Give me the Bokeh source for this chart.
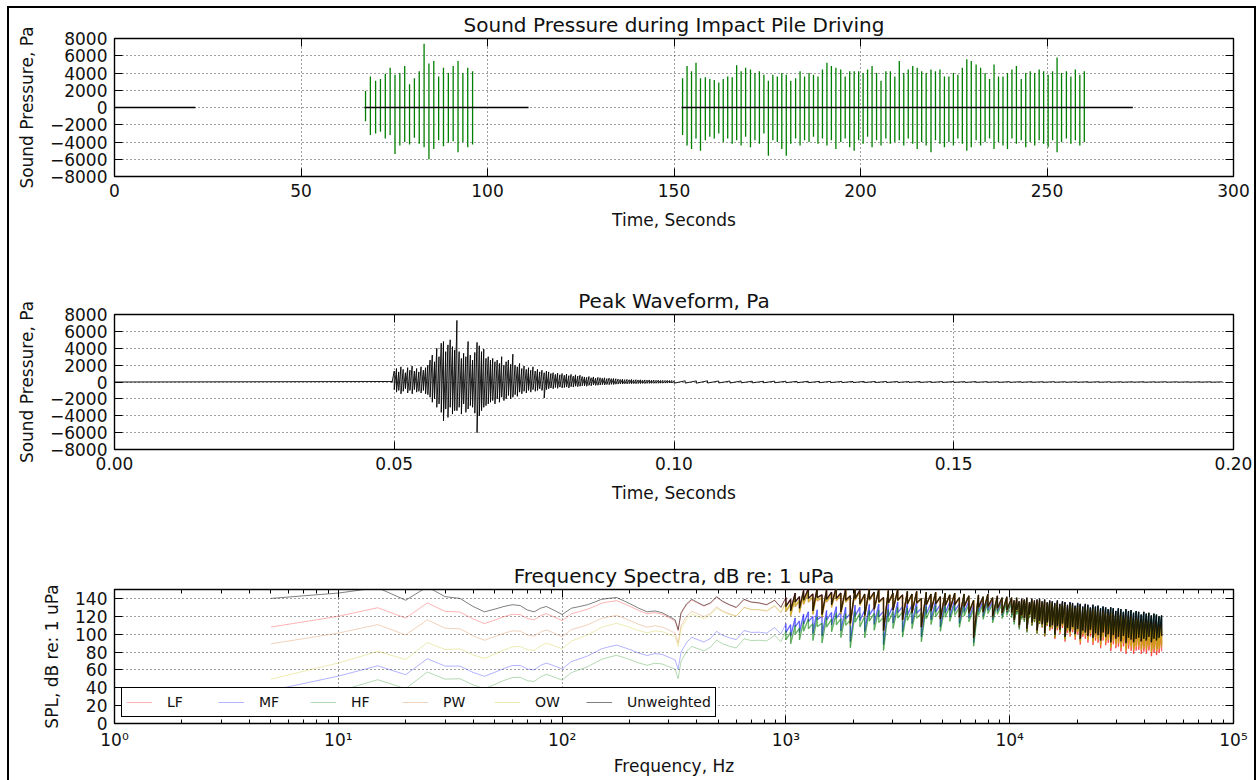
from bokeh.plotting import figure
from bokeh.models import (Range1d, FixedTicker, LinearAxis, LogAxis,
                          NumeralTickFormatter, CustomJSTickFormatter,
                          Legend, LegendItem)
from bokeh.layouts import column
from bokeh.embed import file_html
from bokeh.resources import INLINE

FONT = "DejaVu Sans"
MINUS = "\u2212"

# ---------------- strike record (top panel) ----------------
strike_time_s = [
    67.3, 68.6, 70.0, 71.3, 72.6, 73.9, 75.2, 76.5, 77.8, 79.1, 80.4, 81.7,
    83.0, 84.3, 85.6, 86.9, 88.2, 89.5, 90.8, 92.1, 93.4, 94.7, 96.0,
    152.3, 153.5, 154.7, 155.9, 157.1, 158.4, 159.6, 160.8, 162.0, 163.2,
    164.4, 165.6, 166.8, 168.0, 169.2, 170.5, 171.7, 172.9, 174.1, 175.3,
    176.5, 177.7, 178.9, 180.1, 181.3, 182.6, 183.8, 185.0, 186.2, 187.4,
    188.6, 189.8, 191.0, 192.2, 193.4, 194.7, 195.9, 197.1, 198.3, 199.5,
    200.7, 201.9, 203.1, 204.3, 205.5, 206.8, 208.0, 209.2, 210.4, 211.6,
    212.8, 214.0, 215.2, 216.4, 217.6, 218.9, 220.1, 221.3, 222.5, 223.7,
    224.9, 226.1, 227.3, 228.5, 229.7, 231.0, 232.2, 233.4, 234.6, 235.8,
    237.0, 238.2, 239.4, 240.6, 241.8, 243.1, 244.3, 245.5, 246.7, 247.9,
    249.1, 250.3, 251.5, 252.7, 253.9, 255.2, 256.4, 257.6, 258.8, 260.0,
]
strike_peak_pos_pa = [
    1900, 3600, 3100, 3300, 3900, 4600, 3800, 4000, 4800, 2700, 3400, 4200,
    7400, 5100, 5400, 3600, 4600, 4000, 4800, 5400, 4000, 4600, 4200,
    3400, 4800, 4200, 5200, 3400, 3500, 3300, 3200, 2900, 3300,
    3600, 3500, 4900, 4200, 4600, 4400, 4000, 4200, 3800, 3100,
    3800, 3600, 4000, 3800, 3100, 3400, 4200, 3600, 4000, 3800,
    3600, 4400, 5200, 4800, 4600, 4400, 3600, 4200, 4200, 4200,
    4000, 4400, 4800, 4000, 3100, 4200, 4200, 3600, 5400, 4000,
    4400, 4800, 4600, 4200, 4000, 4400, 4200, 4400, 3600, 3600,
    4000, 3800, 4600, 5600, 5400, 5000, 4600, 4000, 3300, 5000,
    3600, 3600, 4000, 4400, 4800, 3300, 4000, 4200, 4000, 4400,
    4200, 3800, 4200, 5800, 4000, 4200, 3600, 4400, 3800, 4200,
]
strike_peak_neg_pa = [
    -1600, -3200, -3000, -2800, -3600, -3200, -5400, -4400, -4000, -4300,
    -3500, -4200, -4600, -6000, -4800, -3800, -4500, -4100, -3900, -5200,
    -4000, -4600, -4300,
    -3200, -4400, -4800, -3600, -5000, -3800, -3400, -3600, -3000, -4000,
    -3600, -4200, -3800, -4400, -3400, -4600, -3800, -4200, -3000, -5600,
    -3800, -4000, -4800, -5600, -4200, -3600, -4400, -3800, -4000, -3400,
    -4200, -3600, -4400, -3800, -4800, -4000, -3600, -4600, -5000, -3800,
    -4200, -3400, -4600, -3800, -4400, -3600, -4200, -4000, -3800, -4400,
    -3600, -4200, -4800, -4000, -4400, -5200, -3800, -4200, -4600, -4000,
    -4400, -3600, -4200, -5000, -4600, -3800, -4400, -4000, -3600, -4800,
    -4000, -4400, -4800, -3600, -4200, -3800, -4600, -4000, -4400, -3800,
    -4200, -4600, -3800, -5200, -4000, -3600, -4200, -3800, -4400, -4000,
]
record_start_s = [0.0, 67.0, 152.0]
record_end_s = [21.7, 111.0, 273.0]
record_level_pa = [0, 0, 0]

# ---------------- single strike waveform (middle panel) ----------------
# per-bin maxima / minima of the strike waveform
wave_bin_start_s = 0.0496
wave_bin_s = 0.0004
wave_max_pa = [
    60,
    1300, 1600, 1200, 1800, 1500, 1100, 1700, 1400, 1900, 1300, 1600, 1200, 1800, 1400, 1700, 2000,
    2600, 3200, 2400, 4000, 3000, 4600,
    4800, 3600, 4400, 5000, 4200, 3800,
    7300,
    3600, 2800, 3400, 3000, 4800, 3200, 2600, 3500,
    4700, 4300, 3600, 3900, 2800, 3000, 2600,
    2800, 2400, 2600, 2200, 3000, 2000, 2400, 2600, 2100,
    3300,
    2000, 1800, 2200, 1600, 1900, 1500, 1700, 1400, 1800, 1300, 1500, 1200, 1400, 1100, 1300, 1200,
    1000, 1100, 900, 1050, 850, 1000, 800, 950, 750, 900, 700, 850, 700, 800, 650,
    600, 550, 650, 500, 600, 450, 550, 500, 450, 500, 400, 450, 400, 420, 380,
    350, 300, 330, 280, 300, 260, 300, 250, 270, 240, 260, 230, 250, 220, 240,
    210, 230, 200, 210, 190, 200, 180, 190, 170, 180,
]
wave_min_pa = [
    -60,
    -900, -1200, -1000, -1400, -1100, -800, -1300, -1000, -1400, -900, -1200, -1100, -1300, -1000, -1400, -1500,
    -1800, -2400, -2000, -3000, -2600, -3600,
    -4600, -3200, -4200, -3000, -3800, -3400,
    -3400,
    -3000, -3800, -2600, -3600, -3200, -2800, -3000, -3700,
    -6000, -4000, -3400, -3000, -2800, -2600, -2400,
    -2200, -2600, -2000, -2400, -1800, -2200, -2000, -1600, -2000,
    -1800,
    -1500, -1700, -1200, -1400, -1100, -1300, -1000, -1200, -900, -1100, -1000, -800, -1000, -1900, -900, -800,
    -700, -800, -650, -750, -600, -700, -650, -600, -700, -550, -600, -500, -550, -500, -450,
    -450, -500, -400, -450, -350, -400, -380, -350, -320, -350, -300, -320, -280, -300, -260,
    -250, -230, -240, -210, -220, -200, -210, -190, -200, -180, -190, -170, -180, -160, -170,
    -150, -160, -150, -150, -140, -140, -130, -130, -120, -120,
]
tail_bin_start_s = 0.1
tail_bin_s = 0.002
tail_max_pa = [
    150, 140, 130, 140, 120, 110, 120, 100, 90, 100,
    90, 80, 85, 75, 80, 70, 65, 70, 60, 65,
    60, 55, 60, 50, 55, 50, 45, 50, 45, 40,
    45, 40, 40, 35, 40, 35, 35, 30, 35, 30,
    30, 30, 30, 25, 30, 25, 25, 25, 25, 20,
]
tail_min_pa = [
    -140, -130, -140, -120, -110, -120, -100, -100, -90, -90,
    -80, -85, -75, -80, -70, -70, -65, -60, -65, -60,
    -55, -55, -50, -55, -50, -45, -50, -45, -40, -45,
    -40, -40, -35, -40, -35, -35, -30, -35, -30, -30,
    -30, -25, -30, -25, -25, -25, -25, -20, -25, -20,
]

# ---------------- spectra (bottom panel) ----------------
freq_hz = [
    5, 10, 15, 20, 25, 30, 35, 40, 45, 50, 55, 60, 65, 70, 75, 80, 85, 90, 95, 100,
    110, 120, 130, 140, 150, 160, 175, 190, 205, 220, 240, 260, 280, 300, 320, 330,
    340, 360, 380, 400, 430, 460, 490, 520, 560, 600, 650, 700, 760, 820, 890, 950,
    1000, 1050, 1100, 1150, 1200, 1260, 1320, 1380, 1450, 1520, 1600, 1680, 1760,
    1850, 1940, 2040, 2140, 2250, 2360, 2480, 2600, 2730, 2870, 3010, 3160, 3320,
    3490, 3660, 3840, 4030, 4240, 4450, 4670, 4900, 5150, 5400, 5680, 5960, 6260,
    6570, 6900, 7250, 7610, 7990, 8390, 8810, 9250, 9710,
    10200, 10470, 10750, 11030, 11320, 11620, 11930, 12250, 12570, 12900, 13250,
    13600, 13960, 14330, 14710, 15100, 15500, 15910, 16330, 16760, 17210, 17660,
    18130, 18610, 19100, 19610, 20130, 20660, 21210, 21770, 22350, 22940, 23550,
    24170, 24810, 25470, 26140, 26840, 27550, 28280, 29030, 29800, 30590, 31400,
    32230, 33080, 33960, 34860, 35780, 36730, 37700, 38700, 39730, 40780, 41860,
    42970, 44110, 45280, 46480, 47710,
]
# per-bin peak and trough of the unweighted spectrum (equal where the bins are sparse)
unweighted_max_db = [
    140, 146, 152, 138, 153, 142, 140, 131, 125, 128, 131, 133, 132, 127, 125, 129, 131, 128, 125, 122,
    129, 131, 133, 136, 139, 140, 141, 137, 133, 129, 125, 126, 124, 120, 116, 105,
    124, 134, 139, 136, 132, 135, 142, 137, 133, 130, 139, 136, 135, 133, 138, 130,
    141, 139, 146, 142, 149, 151, 145, 152, 144, 150, 147, 153, 146,
    151, 143, 152, 149, 145, 151, 147, 150, 141, 149, 146, 150, 144,
    148, 145, 148, 140, 147, 145, 147, 142, 146, 144, 146, 141, 145,
    143, 138, 144, 142, 145, 141, 143, 141, 142,
    141, 138, 141, 137, 140, 139, 141, 136, 140, 138, 139,
    140, 137, 139, 136, 138, 137, 135, 138, 134, 137, 136,
    133, 136, 135, 132, 135, 134, 131, 134, 133, 130, 133,
    131, 132, 129, 131, 130, 128, 130, 129, 126, 129, 128,
    125, 128, 126, 127, 124, 126, 125, 122, 125, 123, 124,
    121, 123, 122, 120, 121,
]
unweighted_min_db = [
    140, 146, 152, 138, 153, 142, 140, 131, 125, 128, 131, 133, 132, 127, 125, 129, 131, 128, 125, 122,
    129, 131, 133, 136, 139, 140, 141, 137, 133, 129, 125, 126, 124, 120, 116, 105,
    124, 134, 139, 136, 132, 135, 142, 137, 133, 130, 139, 136, 135, 133, 138, 130,
    131, 126, 136, 129, 138, 140, 126, 141, 122, 139, 133, 140, 125,
    138, 112, 140, 134, 121, 139, 128, 136, 104, 135, 127, 138, 116,
    134, 124, 135, 108, 133, 126, 134, 117, 132, 127, 133, 119, 131,
    124, 96, 130, 125, 131, 120, 129, 124, 127,
    124, 116, 127, 110, 121, 118, 106, 122, 113, 117, 104,
    115, 111, 101, 113, 108, 110, 99, 109, 105, 112, 97,
    107, 103, 108, 100, 106, 95, 104, 102, 98, 105, 96,
    101, 99, 93, 102, 97, 100, 91, 99, 95, 97, 92,
    98, 90, 96, 94, 91, 95, 96, 92, 95, 93, 97,
    91, 95, 93, 96, 98,
]
# weighting gains (dB relative to the unweighted spectrum) per hearing group
lf_gain_db = [
    -32, -26, -22.4, -20, -18.1, -16.5, -15.2, -14, -13.1, -12.2, -11.4, -10.7, -10.1, -9.5, -9, -8.5, -8, -7.6, -7.2, -6.9,
    -6.2, -5.6, -5.1, -4.7, -4.3, -4.0, -3.5, -3.1, -2.8, -2.5, -2.2, -1.9, -1.7, -1.5, -1.3, -1.2,
    -1.2, -1.0, -0.9, -0.8, -0.7, -0.6, -0.5, -0.5, -0.4, -0.3, -0.3, -0.2, -0.2, -0.1, -0.1, 0,
    0, 0, 0, 0, 0, 0, 0, 0, 0, 0, 0, 0, 0,
    0, 0, 0, 0, 0, 0, 0, 0, 0, 0, 0, 0, 0,
    -0.2, -0.2, -0.2, -0.3, -0.3, -0.4, -0.4, -0.5, -0.5, -0.6, -0.6, -0.7, -0.8,
    -0.9, -1.0, -1.1, -1.2, -1.3, -1.5, -1.6, -1.8, -1.9,
    -2.1, -2.2, -2.3, -2.4, -2.5, -2.6, -2.8, -2.9, -3.0, -3.2, -3.3,
    -3.5, -3.6, -3.8, -3.9, -4.1, -4.3, -4.5, -4.7, -4.9, -5.1, -5.3,
    -5.5, -5.7, -5.9, -6.2, -6.4, -6.7, -6.9, -7.2, -7.4, -7.7, -8.0,
    -8.2, -8.5, -8.8, -9.1, -9.4, -9.7, -10.0, -10.3, -10.7, -11.0, -11.3,
    -11.6, -12.0, -12.3, -12.7, -13.0, -13.4, -13.7, -14.1, -14.5, -14.8, -15.2,
    -15.6, -16.0, -16.4, -16.8, -17.1,
]
mf_gain_db = [
    -103, -93, -87.4, -83.4, -80.5, -77.8, -75.7, -73.8, -72.2, -70.7, -69.4, -68.1, -67, -66, -65, -64.1, -63.3, -62.5, -61.7, -61,
    -59.7, -58.5, -57.4, -56.3, -55.4, -54.5, -53.2, -52.1, -51.0, -50.1, -48.9, -47.7, -46.7, -45.8, -44.9, -44.4,
    -44.0, -43.2, -42.5, -41.8, -40.8, -39.8, -38.9, -38.1, -37.1, -36.1, -35.0, -34.0, -32.8, -31.9, -30.7, -29.8,
    -29.1, -28.4, -27.8, -27.2, -26.6, -26.0, -25.3, -24.7, -24.0, -23.4, -22.7, -22.1, -21.4,
    -20.8, -20.1, -19.5, -18.8, -18.2, -17.6, -16.9, -16.3, -15.7, -15.1, -14.5, -13.9, -13.3,
    -12.7, -12.1, -11.5, -11.0, -10.4, -9.9, -9.3, -8.8, -8.3, -7.8, -7.3, -6.8, -6.4,
    -5.9, -5.5, -5.1, -4.7, -4.3, -4.0, -3.7, -3.3, -3.0,
    -2.7, -2.5, -2.4, -2.2, -2.1, -2.0, -1.9, -1.8, -1.7, -1.6, -1.5,
    -1.4, -1.3, -1.2, -1.1, -1.0, -0.9, -0.9, -0.8, -0.7, -0.6, -0.6,
    -0.5, -0.5, -0.4, -0.4, -0.3, -0.3, -0.2, -0.2, -0.2, -0.1, -0.1,
    -0.1, -0.1, 0, 0, 0, 0, 0, 0, 0, 0, 0,
    0, 0, 0, 0, 0, -0.1, -0.1, -0.2, -0.2, -0.3, -0.3,
    -0.3, -0.4, -0.4, -0.5, -0.5,
]
hf_gain_db = [
    -120, -110, -103, -99, -95.4, -92.3, -89.9, -87.8, -86, -84.3, -82.8, -81.5, -80.2, -79.1, -78, -77, -76, -75.1, -74.3, -73.5,
    -72.0, -70.6, -69.4, -68.2, -67.2, -66.1, -64.7, -63.4, -62.3, -61.2, -59.8, -58.5, -57.4, -56.3, -55.3, -54.8,
    -54.4, -53.5, -52.6, -51.8, -50.7, -49.6, -48.6, -47.7, -46.6, -45.5, -44.2, -43.1, -41.8, -40.6, -39.3, -38.4,
    -37.5, -36.8, -36.1, -35.4, -34.7, -34.0, -33.2, -32.6, -31.8, -31.1, -30.3, -29.5, -28.8,
    -28.1, -27.3, -26.6, -25.8, -25.1, -24.4, -23.6, -22.9, -22.2, -21.4, -20.7, -20.0, -19.3,
    -18.6, -17.9, -17.2, -16.5, -15.8, -15.2, -14.5, -13.8, -13.2, -12.6, -11.9, -11.3, -10.7,
    -10.1, -9.5, -8.9, -8.4, -7.9, -7.3, -6.8, -6.4, -5.9,
    -5.5, -5.2, -5.0, -4.8, -4.6, -4.4, -4.2, -4.0, -3.8, -3.6, -3.4,
    -3.3, -3.1, -3.0, -2.8, -2.6, -2.5, -2.4, -2.2, -2.1, -1.9, -1.8,
    -1.7, -1.6, -1.4, -1.3, -1.2, -1.1, -1.0, -1.0, -0.9, -0.8, -0.7,
    -0.6, -0.6, -0.5, -0.4, -0.4, -0.3, -0.3, -0.2, -0.2, -0.2, -0.1,
    -0.1, -0.1, 0, 0, 0, 0, 0, 0, 0, 0, 0,
    0, 0, 0, 0, -0.1,
]
pw_gain_db = [
    -50.8, -44.8, -41.3, -38.8, -36.9, -35.3, -34.0, -32.8, -31.8, -30.8, -30.0, -29.3, -28.6, -27.9, -27.3, -26.8, -26.2, -25.7, -25.3, -24.8,
    -24.0, -23.2, -22.5, -21.9, -21.3, -20.8, -20.0, -19.3, -18.6, -18.0, -17.3, -16.6, -16.0, -15.3, -14.8, -14.6,
    -14.3, -13.8, -13.4, -12.9, -12.3, -11.8, -11.3, -10.8, -10.2, -9.7, -9.0, -8.5, -7.8, -7.3, -6.7, -6.2,
    -5.9, -5.6, -5.3, -5.0, -4.7, -4.4, -4.1, -3.9, -3.6, -3.3, -3.1, -2.8, -2.6,
    -2.4, -2.2, -2.0, -1.8, -1.6, -1.4, -1.3, -1.1, -1.0, -0.9, -0.8, -0.7, -0.6,
    -0.5, -0.4, -0.4, -0.3, -0.2, -0.2, -0.1, -0.1, 0, 0, 0, 0, 0,
    0, 0, -0.1, -0.1, -0.1, -0.2, -0.2, -0.3, -0.4,
    -0.3, -0.4, -0.5, -0.5, -0.6, -0.6, -0.7, -0.7, -0.8, -0.8, -0.9,
    -1.0, -1.0, -1.1, -1.2, -1.3, -1.4, -1.5, -1.6, -1.7, -1.8, -1.9,
    -2.0, -2.1, -2.3, -2.4, -2.5, -2.7, -2.8, -3.0, -3.1, -3.3, -3.5,
    -3.6, -3.8, -4.0, -4.2, -4.4, -4.6, -4.8, -5.0, -5.2, -5.5, -5.7,
    -5.9, -6.2, -6.4, -6.7, -6.9, -7.2, -7.5, -7.8, -8.0, -8.3, -8.6,
    -8.9, -9.2, -9.6, -9.9, -10.2,
]
ow_gain_db = [
    -90.3, -78.3, -71.3, -66.3, -62.4, -59.2, -56.5, -54.2, -52.1, -50.3, -48.7, -47.2, -45.8, -44.5, -43.3, -42.2, -41.2, -40.2, -39.3, -38.4,
    -36.8, -35.2, -33.9, -32.6, -31.3, -30.3, -28.9, -27.4, -26.2, -25.0, -23.6, -22.3, -21.1, -20.0, -19.0, -18.6,
    -18.1, -17.2, -16.4, -15.6, -14.6, -13.6, -12.8, -11.9, -10.9, -10.1, -9.2, -8.3, -7.5, -6.6, -5.8, -5.2,
    -4.9, -4.5, -4.1, -3.8, -3.5, -3.2, -2.9, -2.7, -2.4, -2.2, -1.9, -1.7, -1.5,
    -1.4, -1.2, -1.1, -0.9, -0.8, -0.7, -0.6, -0.5, -0.4, -0.4, -0.3, -0.2, -0.2,
    -0.1, -0.1, -0.1, -0.1, -0.1, 0, 0, 0, 0, 0, 0, -0.1, -0.1,
    -0.1, -0.1, -0.2, -0.3, -0.3, -0.4, -0.5, -0.6, -0.7,
    -0.8, -0.9, -1.0, -1.0, -1.1, -1.2, -1.3, -1.3, -1.4, -1.5, -1.6,
    -1.7, -1.8, -1.9, -2.0, -2.1, -2.2, -2.4, -2.5, -2.6, -2.8, -2.9,
    -3.1, -3.2, -3.4, -3.5, -3.7, -3.9, -4.1, -4.3, -4.5, -4.7, -4.9,
    -5.1, -5.3, -5.5, -5.8, -6.0, -6.3, -6.5, -6.8, -7.0, -7.3, -7.6,
    -7.9, -8.1, -8.4, -8.7, -9.0, -9.4, -9.7, -10.0, -10.3, -10.6, -11.0,
    -11.3, -11.7, -12.0, -12.4, -12.7,
]
series_names = ["LF", "MF", "HF", "PW", "OW", "Unweighted"]
series_colors = ["#ff0000", "#0000ff", "#008000", "#d2691e", "#bfbf00", "#000000"]

for arr in (unweighted_max_db, unweighted_min_db, lf_gain_db, mf_gain_db,
            hf_gain_db, pw_gain_db, ow_gain_db):
    assert len(arr) == len(freq_hz), len(arr)
assert len(strike_time_s) == len(strike_peak_pos_pa) == len(strike_peak_neg_pa)
assert len(wave_max_pa) == len(wave_min_pa)
assert len(tail_max_pa) == len(tail_min_pa)

# ---------------- layout helpers ----------------
PANEL_W = 1245
BORDER_L = 105
BORDER_R = 21
BLANK = CustomJSTickFormatter(code="return ''")


def minus_labels(ticks):
    return {t: (MINUS + str(abs(t)) if t < 0 else str(t)) for t in ticks}


def make_panel(title, height, top, bottom, x_range, y_range, x_type="linear"):
    p = figure(width=PANEL_W, height=height, x_range=x_range, y_range=y_range,
               x_axis_type=x_type, min_border_left=BORDER_L, min_border_right=BORDER_R,
               min_border_top=top, min_border_bottom=bottom,
               output_backend="svg", toolbar_location=None, title=title)
    p.title.text_font = FONT
    p.title.text_font_size = "20px"
    p.title.text_font_style = "normal"
    p.title.align = "center"
    p.title.standoff = 3
    p.title.text_color = "#111111"
    p.outline_line_color = "black"
    p.outline_line_width = 1.4
    p.outline_line_alpha = 1.0
    p.background_fill_color = "white"
    p.border_fill_color = "white"
    for g in (p.xgrid[0], p.ygrid[0]):
        g.grid_line_color = "black"
        g.grid_line_dash = "1 3"
        g.grid_line_alpha = 0.75
        g.grid_line_width = 1
    return p


def style_axis(ax, labels=True):
    ax.axis_line_color = None
    ax.major_tick_in = 8
    ax.major_tick_out = 0
    ax.minor_tick_in = 4
    ax.minor_tick_out = 0
    ax.major_tick_line_color = "black"
    ax.minor_tick_line_color = "black"
    ax.major_tick_line_width = 1
    ax.major_label_text_font = FONT
    ax.major_label_text_color = "#111111"
    ax.major_label_text_font_size = "17px"
    ax.axis_label_text_font = FONT
    ax.axis_label_text_font_style = "normal"
    ax.axis_label_text_color = "#111111"
    ax.axis_label_text_font_size = "17px"
    if labels:
        ax.major_label_standoff = 7
        ax.axis_label_standoff = 10
    else:
        ax.formatter = BLANK
        ax.major_label_standoff = 0
        ax.axis_label = None


def mirror_axes(p, xticker, yticker, x_type="linear"):
    top_ax = LogAxis(ticker=xticker) if x_type == "log" else LinearAxis(ticker=xticker)
    right_ax = LinearAxis(ticker=yticker)
    style_axis(top_ax, labels=False)
    style_axis(right_ax, labels=False)
    p.add_layout(top_ax, "above")
    p.add_layout(right_ax, "right")


def peak_trace(xs, highs, lows):
    """Path that runs down each bin from its maximum to its minimum."""
    px, py = [], []
    for x, hi, lo in zip(xs, highs, lows):
        px.extend([x, x])
        py.extend([hi, lo])
    return px, py


pa_ticks = [-8000, -6000, -4000, -2000, 0, 2000, 4000, 6000, 8000]

# ---------------- panel 1: full record ----------------
p1 = make_panel("Sound Pressure during Impact Pile Driving", 277, 30, 109,
                Range1d(0, 300), Range1d(-8000, 8000))
x1_ticker = FixedTicker(ticks=[0, 50, 100, 150, 200, 250, 300])
y1_ticker = FixedTicker(ticks=pa_ticks)
p1.xaxis.ticker = x1_ticker
p1.yaxis.ticker = y1_ticker
p1.yaxis.major_label_overrides = minus_labels(pa_ticks)
p1.xaxis.axis_label = "Time, Seconds"
p1.yaxis.axis_label = "Sound Pressure, Pa"
style_axis(p1.xaxis[0])
style_axis(p1.yaxis[0])
mirror_axes(p1, x1_ticker, y1_ticker)
p1.segment(x0=strike_time_s, y0=strike_peak_neg_pa, x1=strike_time_s, y1=strike_peak_pos_pa,
           line_color="#008000", line_width=1.3)
p1.segment(x0=record_start_s, y0=record_level_pa, x1=record_end_s, y1=record_level_pa,
           line_color="black", line_width=1.3)

# ---------------- panel 2: peak waveform ----------------
wave_t = [wave_bin_start_s + i * wave_bin_s for i in range(len(wave_max_pa))]
tail_t = [tail_bin_start_s + i * tail_bin_s for i in range(len(tail_max_pa))]
wx, wy = peak_trace([0.0] + wave_t + tail_t,
                    [0] + wave_max_pa + tail_max_pa,
                    [0] + wave_min_pa + tail_min_pa)
p2 = make_panel("Peak Waveform, Pa", 275, 28, 111, Range1d(0, 0.2), Range1d(-8000, 8000))
x2_ticker = FixedTicker(ticks=[0.0, 0.05, 0.1, 0.15, 0.2])
y2_ticker = FixedTicker(ticks=pa_ticks)
p2.xaxis.ticker = x2_ticker
p2.xaxis.formatter = NumeralTickFormatter(format="0.00")
p2.yaxis.ticker = y2_ticker
p2.yaxis.major_label_overrides = minus_labels(pa_ticks)
p2.xaxis.axis_label = "Time, Seconds"
p2.yaxis.axis_label = "Sound Pressure, Pa"
style_axis(p2.xaxis[0])
style_axis(p2.yaxis[0])
mirror_axes(p2, x2_ticker, y2_ticker)
p2.line(wx, wy, line_color="black", line_width=0.9)

# ---------------- panel 3: spectra ----------------
p3 = make_panel("Frequency Spectra, dB re: 1 uPa", 230, 28, 67,
                Range1d(1, 1e5), Range1d(0, 150), x_type="log")
decades = [1, 10, 100, 1000, 10000, 100000]
minor = [m * d for d in decades[:-1] for m in range(2, 10)]
x3_ticker = FixedTicker(ticks=decades, minor_ticks=minor)
spl_ticks = [0, 20, 40, 60, 80, 100, 120, 140]
y3_ticker = FixedTicker(ticks=spl_ticks)
p3.xaxis.ticker = x3_ticker
p3.yaxis.ticker = y3_ticker
p3.xaxis.axis_label = "Frequency, Hz"
p3.yaxis.axis_label = "SPL, dB re: 1 uPa"
style_axis(p3.xaxis[0])
style_axis(p3.yaxis[0])
p3.xaxis[0].axis_label_standoff = 3
p3.xaxis[0].major_label_standoff = 6
p3.xaxis[0].formatter = CustomJSTickFormatter(code="""
    const sup = ['\u2070', '\u00b9', '\u00b2', '\u00b3', '\u2074', '\u2075'];
    return '10' + sup[Math.round(Math.log10(tick))];
""")
mirror_axes(p3, x3_ticker, y3_ticker, x_type="log")

# bins above ~1 kHz hold many FFT lines each, so the trace there is drawn denser
dense = [i for i, (hi, lo) in enumerate(zip(unweighted_max_db, unweighted_min_db)) if hi != lo]
zero_gain = [0] * len(freq_hz)
gains = [lf_gain_db, mf_gain_db, hf_gain_db, pw_gain_db, ow_gain_db, zero_gain]
items = []
for name, color, gain in zip(series_names, series_colors, gains):
    highs = [v + g for v, g in zip(unweighted_max_db, gain)]
    lows = [v + g for v, g in zip(unweighted_min_db, gain)]
    sx, sy = peak_trace(freq_hz, highs, lows)
    base_alpha = 0.5 if name == "Unweighted" else 0.3
    r = p3.line(sx, sy, line_color=color, line_width=1.0, line_alpha=base_alpha)
    dx, dy = peak_trace([freq_hz[i] for i in dense], [highs[i] for i in dense],
                        [lows[i] for i in dense])
    dense_alpha = 0.6 if name == "Unweighted" else 0.45
    p3.line(dx, dy, line_color=color, line_width=1.4, line_alpha=dense_alpha)
    items.append(LegendItem(label=name, renderers=[r]))

legend = Legend(items=items, orientation="horizontal", location=(7, 6))
legend.label_text_font = FONT
legend.label_text_font_size = "14px"
legend.label_text_color = "#111111"
legend.glyph_width = 26
legend.glyph_height = 20
legend.label_height = 20
legend.label_standoff = 15
legend.label_width = 45
legend.spacing = 6
legend.padding = 4
legend.margin = 0
legend.border_line_color = "black"
legend.border_line_width = 1.5
legend.border_line_alpha = 1.0
legend.background_fill_color = "white"
legend.background_fill_alpha = 1.0
p3.add_layout(legend)

layout = column(p1, p2, p3, spacing=0,
                styles={"border": "2px solid black", "border-bottom": "none",
                        "margin-left": "7px", "margin-top": "6px"})

with open("out.html", "w") as f:
    f.write(file_html(layout, INLINE))
